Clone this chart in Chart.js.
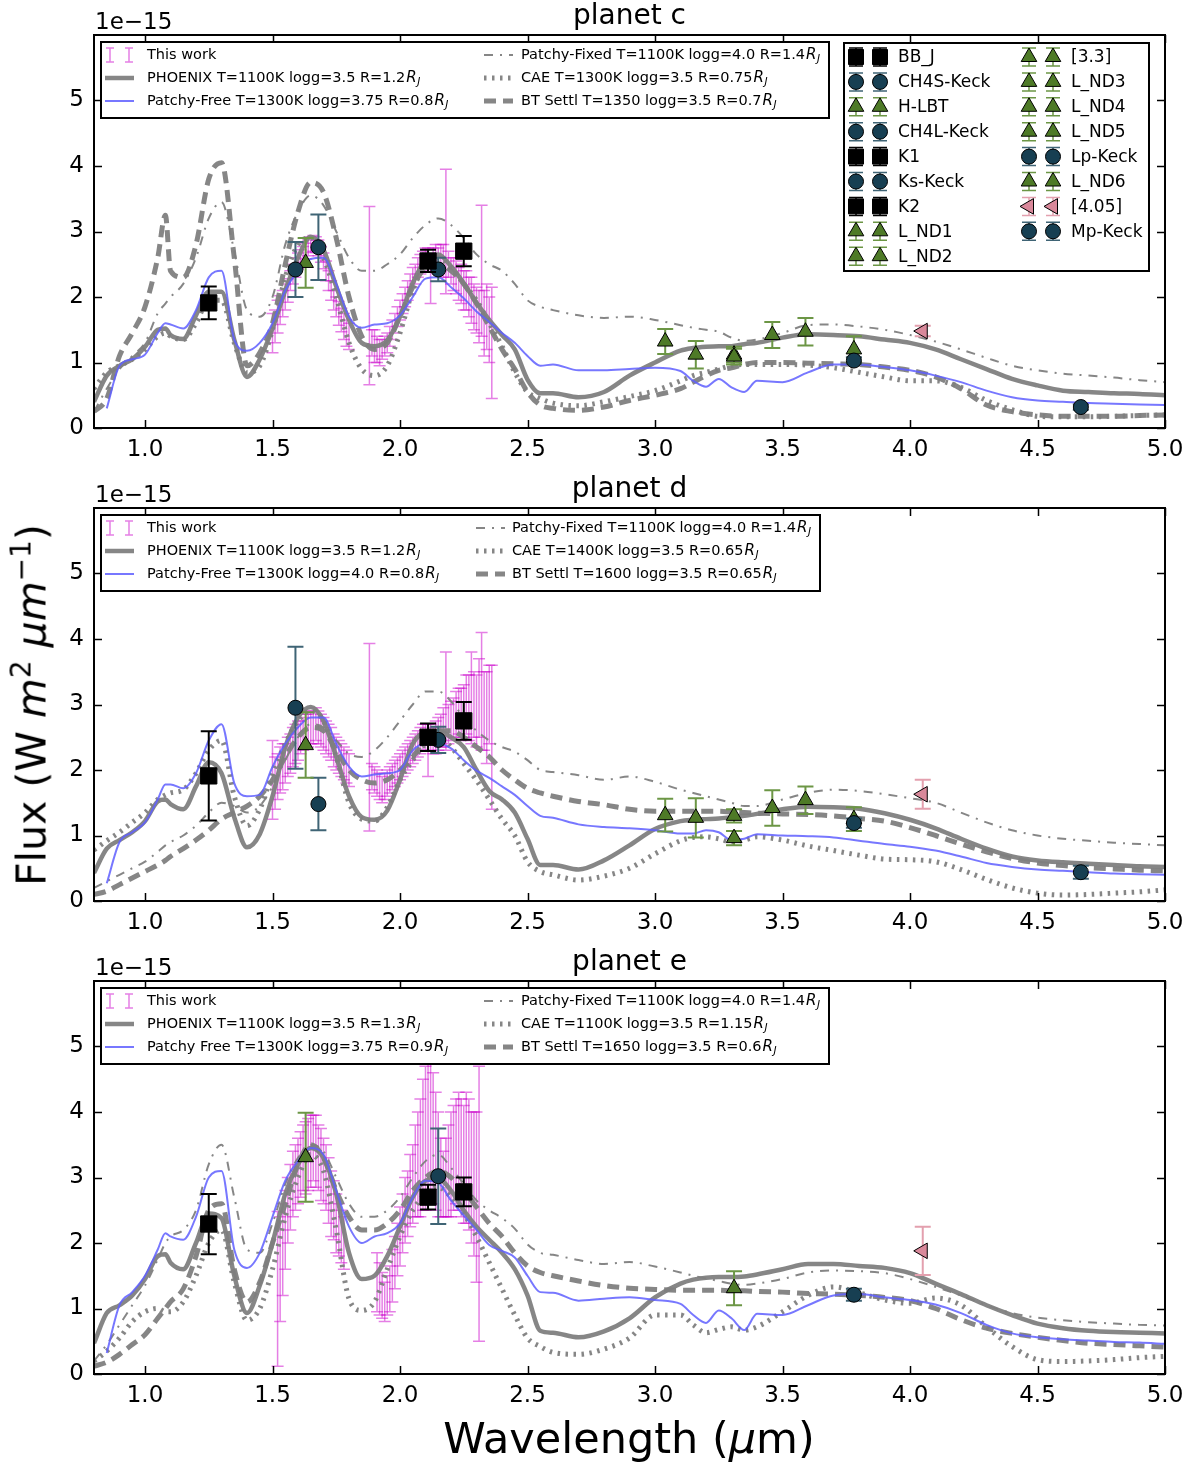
<!DOCTYPE html>
<html lang="en">
<head>
<meta charset="UTF-8">
<title>Spectra of planets c, d and e</title>
<script src="https://cdn.jsdelivr.net/npm/chart.js"></script>
<style>
    body {
        margin: 0;
        background: #fff;
    }

    #page {
        position: relative;
        width: 1195px;
        height: 1462px;
        font-family: "DejaVu Sans", sans-serif;
        color: #000;
    }

    #page canvas {
        position: absolute;
        left: 0;
    }

    /* axis titles shared by the three panels */
    .axis-title {
        position: absolute;
        white-space: nowrap;
        transform: translate(-50%, -50%);
        line-height: 1;
    }

    .axis-title sup {
        font-size: 0.68em;
        vertical-align: 0.55em;
        line-height: 0;
    }

    #ylab {
        left: 32px;
        top: 705px;
        font-size: 41px;
        transform: translate(-50%, -50%) rotate(-90deg);
    }

    #xlab {
        left: 629px;
        top: 1438px;
        font-size: 43px;
    }
</style>
</head>
<body>
<div id="page">
    <canvas id="chartC" width="1195" height="473" style="top:0;width:1195px;height:473px"></canvas>
    <canvas id="chartD" width="1195" height="473" style="top:473px;width:1195px;height:473px"></canvas>
    <canvas id="chartE" width="1195" height="473" style="top:946px;width:1195px;height:473px"></canvas>
    <div class="axis-title" id="ylab">Flux (W <i>m</i><sup>2</sup> <i>µm</i><sup>−1</sup>)</div>
    <div class="axis-title" id="xlab">Wavelength (<i>µ</i>m)</div>
</div>

<script>
// ---------- data (flux in units of 1e-15 W m^-2 um^-1) ----------

const xTicks = [1.0, 1.5, 2.0, 2.5, 3.0, 3.5, 4.0, 4.5, 5.0];
const yTicks = [0, 1, 2, 3, 4, 5];

// wavelength grid shared by the model curves
const modelWl = [0.80,0.85,0.90,0.95,1.00,1.05,1.08,
    1.10,1.15,1.20,1.25,1.30,1.35,1.40,1.45,
    1.50,1.55,1.60,1.65,1.70,1.75,1.80,1.85,
    1.90,1.95,2.00,2.05,2.10,2.15,2.20,2.25,
    2.30,2.35,2.40,2.45,2.50,2.55,2.60,
    2.70,2.80,2.90,3.00,3.10,3.15,3.20,3.25,3.30,3.35,3.40,
    3.50,3.60,3.70,3.80,3.90,4.00,4.10,4.20,
    4.30,4.40,4.50,4.60,4.70,4.80,4.90,5.00];

// planet c models
const phoenixC = [0.40,0.80,0.95,1.05,1.24,1.50,1.52,
    1.42,1.36,1.72,2.08,2.08,1.35,0.78,1.05,
    1.52,2.10,2.60,2.92,2.72,2.16,1.65,1.30,
    1.25,1.34,1.70,2.21,2.57,2.65,2.47,2.21,
    1.91,1.65,1.42,1.20,0.74,0.53,0.53,
    0.47,0.55,0.80,1.00,1.18,1.22,1.24,1.25,1.25,1.28,1.30,
    1.38,1.43,1.42,1.40,1.35,1.30,1.20,1.05,
    0.90,0.75,0.65,0.57,0.55,0.53,0.52,0.50];
const patchyFreeC = [null,0.30,0.95,1.05,1.12,1.45,1.60,
    1.58,1.52,1.80,2.30,2.40,1.35,1.18,1.30,
    1.60,2.10,2.40,2.58,2.60,2.20,1.70,1.53,
    1.58,1.60,1.72,2.00,2.28,2.30,2.15,1.98,
    1.78,1.62,1.45,1.30,1.10,0.95,0.97,
    0.88,0.88,0.90,0.92,0.87,0.72,0.63,0.75,0.62,0.55,0.72,
    0.70,0.85,0.97,0.97,0.93,0.88,0.80,0.70,
    0.57,0.47,0.42,0.40,0.38,0.37,0.36,0.35];
const patchyFixedC = [0.25,0.60,0.90,1.10,1.30,1.75,1.90,
    2.00,2.20,2.60,3.20,3.45,2.70,1.80,1.70,
    2.00,2.80,3.30,3.55,3.40,3.00,2.60,2.40,
    2.40,2.50,2.65,2.90,3.10,3.20,3.10,2.90,
    2.65,2.50,2.40,2.20,1.95,1.85,1.80,
    1.72,1.68,1.70,1.65,1.57,1.53,1.50,1.47,1.38,1.33,1.35,
    1.45,1.57,1.58,1.55,1.50,1.42,1.32,1.20,
    1.07,0.95,0.88,0.83,0.80,0.77,0.73,0.70];
const caeC = [0.60,0.85,0.95,1.05,1.20,1.40,1.45,
    1.40,1.35,1.60,1.95,1.95,1.30,0.85,0.95,
    1.50,2.30,2.80,2.90,2.60,2.00,1.30,0.90,
    0.80,0.95,1.45,2.10,2.50,2.60,2.45,2.20,
    1.95,1.60,1.25,0.85,0.55,0.45,0.38,
    0.34,0.40,0.48,0.57,0.72,0.80,0.85,0.90,0.95,0.97,0.97,
    0.97,0.96,0.92,0.85,0.78,0.72,0.72,0.62,
    0.42,0.28,0.18,0.17,0.17,0.18,0.19,0.20];
const btSettlC = [0.25,0.45,1.10,1.45,1.85,2.60,3.25,
    2.40,2.30,2.80,3.80,4.05,2.60,0.95,1.15,
    1.60,2.50,3.30,3.75,3.60,2.90,2.00,1.40,
    1.20,1.30,1.70,2.15,2.45,2.50,2.40,2.20,
    1.90,1.55,1.20,0.90,0.55,0.35,0.30,
    0.27,0.32,0.42,0.50,0.60,0.70,0.80,0.88,0.92,0.97,1.00,
    1.00,0.99,0.98,0.97,0.93,0.88,0.78,0.60,
    0.35,0.25,0.20,0.18,0.18,0.18,0.19,0.20];

// planet d models
const phoenixD = [0.43,0.80,0.93,1.05,1.22,1.52,1.55,
    1.48,1.40,1.75,2.12,1.95,1.28,0.82,1.02,
    1.60,2.35,2.80,2.96,2.75,2.20,1.60,1.28,
    1.24,1.38,1.85,2.40,2.58,2.60,2.50,2.35,
    2.00,1.68,1.55,1.35,0.95,0.55,0.55,
    0.48,0.62,0.85,1.10,1.22,1.24,1.25,1.26,1.28,1.30,1.33,
    1.40,1.44,1.43,1.41,1.34,1.24,1.11,0.95,
    0.80,0.68,0.62,0.59,0.57,0.55,0.53,0.52];
const patchyFreeD = [null,0.27,0.90,1.05,1.20,1.55,1.78,
    1.78,1.72,1.95,2.45,2.70,1.80,1.60,1.62,
    2.05,2.40,2.65,2.80,2.80,2.40,2.05,1.90,
    1.93,1.95,2.00,2.30,2.40,2.40,2.33,2.15,
    1.99,1.88,1.75,1.62,1.45,1.30,1.27,
    1.17,1.13,1.11,1.08,1.03,1.03,1.08,1.05,0.93,0.95,1.02,
    1.00,0.99,0.97,0.92,0.87,0.83,0.77,0.68,
    0.58,0.52,0.48,0.46,0.44,0.42,0.41,0.40];
const patchyFixedD = [0.20,0.30,0.40,0.50,0.60,0.75,0.85,
    0.90,1.00,1.15,1.35,1.50,1.45,1.35,1.45,
    1.75,2.15,2.50,2.70,2.65,2.45,2.25,2.20,
    2.30,2.50,2.75,3.00,3.20,3.20,3.05,2.80,
    2.60,2.45,2.35,2.28,2.15,2.00,1.97,
    1.92,1.85,1.90,1.82,1.70,1.65,1.60,1.55,1.50,1.45,1.45,
    1.55,1.65,1.70,1.68,1.63,1.57,1.50,1.35,
    1.20,1.08,1.00,0.95,0.92,0.89,0.87,0.85];
const caeD = [0.78,0.92,1.05,1.20,1.35,1.55,1.62,
    1.65,1.70,1.95,2.30,2.45,1.60,1.15,1.40,
    1.95,2.40,2.75,2.90,2.75,2.20,1.50,1.25,
    1.22,1.43,1.85,2.15,2.40,2.50,2.35,2.10,
    1.84,1.55,1.25,1.00,0.60,0.45,0.40,
    0.32,0.38,0.50,0.72,0.92,0.97,0.98,0.95,0.90,0.93,0.98,
    0.93,0.84,0.77,0.70,0.64,0.63,0.60,0.48,
    0.33,0.20,0.12,0.09,0.10,0.12,0.14,0.17];
const btSettlD = [0.10,0.15,0.25,0.35,0.45,0.55,0.62,
    0.68,0.80,0.93,1.08,1.25,1.35,1.45,1.60,
    1.85,2.20,2.50,2.65,2.60,2.30,2.00,1.85,
    1.80,1.85,2.00,2.20,2.45,2.60,2.60,2.50,
    2.35,2.20,2.00,1.85,1.72,1.65,1.60,
    1.52,1.47,1.40,1.37,1.37,1.37,1.37,1.37,1.36,1.35,1.34,
    1.33,1.32,1.30,1.26,1.22,1.12,1.00,0.87,
    0.75,0.65,0.58,0.54,0.51,0.49,0.47,0.46];

// planet e models
const phoenixE = [0.47,0.93,1.05,1.20,1.45,1.80,1.83,
    1.70,1.60,2.00,2.45,2.38,1.50,0.93,1.35,
    2.00,2.75,3.20,3.45,3.30,2.75,1.85,1.45,
    1.50,1.80,2.25,2.70,2.95,2.98,2.80,2.50,
    2.25,2.05,1.85,1.60,1.20,0.66,0.63,
    0.56,0.65,0.85,1.17,1.38,1.44,1.47,1.48,1.48,1.49,1.52,
    1.60,1.68,1.68,1.65,1.62,1.54,1.38,1.22,
    1.05,0.90,0.77,0.70,0.66,0.64,0.63,0.62];
const patchyFreeE = [null,0.32,1.05,1.25,1.50,1.90,2.15,
    2.10,2.05,2.40,3.00,3.10,1.90,1.62,1.85,
    2.40,2.95,3.25,3.45,3.35,2.80,2.25,2.00,
    2.10,2.15,2.30,2.70,2.95,2.92,2.65,2.42,
    2.20,1.97,1.88,1.78,1.50,1.25,1.24,
    1.12,1.15,1.17,1.13,1.07,0.90,0.78,0.97,0.85,0.67,0.92,
    0.90,1.05,1.20,1.22,1.17,1.13,1.06,0.93,
    0.75,0.62,0.56,0.53,0.51,0.49,0.48,0.46];
const patchyFixedE = [0.20,0.45,0.75,1.05,1.35,1.75,2.00,
    2.10,2.20,2.50,3.20,3.50,2.70,1.90,1.85,
    2.30,2.90,3.30,3.50,3.40,3.00,2.60,2.40,
    2.40,2.50,2.70,3.00,3.25,3.35,3.15,2.90,
    2.65,2.50,2.38,2.22,1.98,1.85,1.82,
    1.74,1.68,1.71,1.64,1.55,1.50,1.46,1.42,1.38,1.36,1.38,
    1.45,1.55,1.58,1.57,1.54,1.45,1.33,1.20,
    1.05,0.93,0.86,0.82,0.79,0.77,0.75,0.74];
const caeE = [0.20,0.35,0.55,0.80,0.95,1.00,0.95,
    0.95,1.10,1.50,2.00,2.20,1.40,0.82,1.00,
    1.60,2.40,3.00,3.35,3.10,2.20,1.15,0.97,
    1.10,1.60,2.10,2.50,2.75,2.85,2.70,2.45,
    2.10,1.70,1.30,0.90,0.55,0.42,0.33,
    0.30,0.38,0.55,0.90,0.90,0.75,0.63,0.68,0.72,0.67,0.72,
    0.95,1.20,1.33,1.24,1.13,1.08,1.16,1.05,
    0.72,0.42,0.22,0.19,0.20,0.22,0.25,0.27];
const btSettlE = [0.12,0.18,0.30,0.45,0.60,0.85,1.00,
    1.10,1.30,1.80,2.50,2.60,1.60,1.10,1.40,
    2.00,2.60,3.20,3.50,3.30,2.80,2.40,2.20,
    2.20,2.30,2.50,2.80,3.00,3.10,3.00,2.80,
    2.55,2.30,2.10,1.85,1.65,1.55,1.50,
    1.42,1.35,1.31,1.29,1.28,1.28,1.28,1.28,1.27,1.27,1.26,
    1.25,1.23,1.22,1.20,1.17,1.12,1.00,0.83,
    0.70,0.62,0.56,0.51,0.47,0.45,0.43,0.41];

// "This work" spectra (H and K bands)
const workWlC = [1.50,1.51,1.52,1.53,1.54,1.55,1.56,1.57,1.58,1.59,1.60,1.61,1.62,1.63,1.64,1.65,
    1.66,1.67,1.68,1.69,1.70,1.71,1.72,1.73,1.74,1.75,1.76,1.77,1.78,1.79,1.80,
    1.88,1.89,1.90,1.91,1.92,1.93,1.94,1.95,1.96,1.97,1.98,1.99,2.00,2.01,2.02,2.03,2.04,
    2.05,2.06,2.07,2.08,2.09,2.10,2.11,2.12,2.13,2.14,2.15,2.16,2.17,2.18,2.19,2.20,2.21,
    2.22,2.23,2.24,2.25,2.26,2.27,2.28,2.29,2.30,2.31,2.32,2.33,2.34,2.35,2.36];
const workFluxC = [1.45,1.55,1.70,1.80,1.90,2.00,2.10,2.25,2.35,2.45,2.55,2.60,2.65,2.70,2.75,2.80,
    2.82,2.80,2.75,2.65,2.55,2.40,2.25,2.10,1.95,1.85,1.75,1.65,1.55,1.45,1.40,
    2.02,1.30,1.25,1.20,1.15,1.20,1.25,1.30,1.40,1.50,1.60,1.70,1.80,1.90,2.00,2.10,2.20,
    2.30,2.35,2.45,2.50,2.55,2.60,2.60,2.25,2.60,2.60,2.55,2.60,2.55,3.00,2.50,2.40,2.35,
    2.30,2.20,2.20,2.10,2.10,2.00,1.95,1.85,1.80,1.70,2.40,1.60,1.70,1.50,1.30];
const workErrC = [0.30,0.25,0.25,0.22,0.20,0.20,0.18,0.15,0.15,0.15,0.12,0.12,0.12,0.12,0.12,0.12,
    0.12,0.12,0.12,0.12,0.12,0.15,0.15,0.15,0.15,0.15,0.18,0.18,0.20,0.20,0.20,
    1.36,0.20,0.25,0.20,0.20,0.15,0.15,0.15,0.15,0.15,0.15,0.15,0.15,0.15,0.15,0.15,0.15,
    0.15,0.15,0.15,0.15,0.15,0.15,0.15,0.35,0.15,0.20,0.20,0.20,0.25,0.95,0.20,0.20,0.25,
    0.25,0.25,0.30,0.30,0.30,0.30,0.35,0.35,0.35,0.40,1.00,0.50,0.50,0.50,0.85];

const workWlD = workWlC;
const workFluxD = [1.85,1.80,1.90,2.00,2.05,2.10,2.20,2.25,2.35,2.40,2.45,2.50,2.55,2.60,2.60,2.65,
    2.65,2.70,2.65,2.60,2.55,2.50,2.45,2.40,2.30,2.25,2.20,2.15,2.10,2.05,2.00,
    2.50,1.90,1.85,1.80,1.75,1.70,1.75,1.80,1.85,1.90,1.95,2.00,2.05,2.10,2.15,2.20,2.25,
    2.30,2.35,2.40,2.45,2.50,2.50,2.30,2.50,2.45,2.50,2.55,2.60,2.65,3.05,2.70,2.75,2.80,
    2.85,2.90,2.85,2.90,3.00,2.95,3.10,3.00,2.90,3.10,3.20,2.90,2.80,3.00,2.50];
const workErrD = [0.60,0.40,0.35,0.35,0.35,0.30,0.30,0.30,0.30,0.30,0.30,0.25,0.25,0.25,0.25,0.25,
    0.25,0.25,0.25,0.25,0.25,0.25,0.25,0.25,0.25,0.25,0.25,0.25,0.25,0.25,0.25,
    1.43,0.20,0.20,0.20,0.20,0.20,0.20,0.20,0.20,0.20,0.20,0.20,0.20,0.20,0.20,0.20,0.20,
    0.20,0.20,0.20,0.20,0.20,0.20,0.40,0.20,0.20,0.25,0.25,0.25,0.30,0.75,0.30,0.30,0.30,
    0.35,0.35,0.40,0.40,0.45,0.50,0.70,0.50,0.55,0.60,0.90,0.60,0.70,0.60,1.10];

const workWlE = [1.52,1.53,1.54,1.55,1.56,1.57,1.58,1.59,1.60,1.61,1.62,1.63,1.64,1.65,
    1.66,1.67,1.68,1.69,1.70,1.71,1.72,1.73,1.74,1.75,1.76,1.77,1.78,
    1.91,1.92,1.93,1.94,1.95,1.96,1.97,1.98,1.99,2.00,2.01,2.02,2.03,2.04,2.05,2.06,
    2.07,2.08,2.09,2.10,2.11,2.12,2.13,2.14,2.15,2.16,2.17,2.18,2.19,2.20,2.21,2.22,
    2.23,2.24,2.25,2.26,2.27,2.28,2.29,2.30,2.31];
const workFluxE = [1.30,1.60,1.90,2.20,2.50,2.70,2.90,3.00,3.10,3.20,3.30,3.30,3.35,3.40,
    3.45,3.40,3.30,3.20,3.10,3.00,2.80,2.60,2.50,2.30,2.20,2.10,2.00,
    1.40,1.30,1.20,1.10,1.20,1.30,1.50,1.70,1.90,2.10,2.30,2.50,2.60,2.80,2.90,3.10,
    3.20,3.30,3.50,3.60,3.70,3.80,3.60,3.40,3.20,3.00,2.90,3.00,3.10,3.20,3.30,3.40,
    3.40,3.30,3.20,3.30,3.20,3.00,2.90,2.70,2.60];
const workErrE = [1.18,0.80,0.70,0.60,0.50,0.50,0.50,0.50,0.50,0.50,0.50,0.55,0.55,0.55,
    0.50,0.55,0.50,0.55,0.50,0.50,0.50,0.50,0.45,0.45,0.40,0.40,0.40,
    0.45,0.40,0.35,0.30,0.30,0.35,0.40,0.40,0.40,0.45,0.45,0.50,0.50,0.55,0.60,0.70,
    0.80,0.90,1.00,1.10,1.10,1.20,1.00,0.90,0.80,0.60,0.50,0.60,0.70,0.80,0.80,0.80,
    0.90,0.90,0.90,1.00,1.00,1.00,1.10,1.30,2.10];

// photometry from earlier work
const photNames = ['BB_J', 'CH4S-Keck', 'H-LBT', 'CH4L-Keck', 'K1', 'Ks-Keck', 'K2', 'L_ND1', 'L_ND2',
    '[3.3]', 'L_ND3', 'L_ND4', 'L_ND5', 'Lp-Keck', 'L_ND6', '[4.05]', 'Mp-Keck'];
const photWl = [1.25, 1.59, 1.63, 1.68, 2.11, 2.15, 2.25, 3.04, 3.16, 3.31, 3.31, 3.46, 3.59, 3.78, 3.78, 4.05, 4.67];
const photKind = ['square', 'circle', 'triangle', 'circle', 'square', 'circle', 'square', 'triangle', 'triangle',
    'triangle', 'triangle', 'triangle', 'triangle', 'circle', 'triangle', 'left', 'circle'];
const photC = [1.91, 2.42, 2.52, 2.76, 2.55, 2.42, 2.70, 1.32, 1.12, 1.09, 1.12, 1.42, 1.47, 1.03, 1.20, 1.48, 0.32];
const photErrC = [0.25, 0.42, 0.38, 0.50, 0.17, 0.18, 0.23, 0.19, 0.21, 0.12, 0.12, 0.20, 0.21, 0.05, 0.20, 0.08, 0.04];
const photD = [1.91, 2.95, 2.38, 1.48, 2.50, 2.46, 2.75, 1.31, 1.27, 0.96, 1.30, 1.42, 1.54, 1.19, 1.25, 1.63, 0.44];
const photErrD = [0.68, 0.93, 0.50, 0.40, 0.21, 0.20, 0.29, 0.25, 0.30, 0.11, 0.10, 0.27, 0.21, 0.07, 0.18, 0.22, 0.10];
const photE = [2.29, null, 3.31, null, 2.70, 3.02, 2.78, null, null, 1.31, null, null, null, 1.21, null, 1.88, null];
const photErrE = [0.46, null, 0.68, null, 0.19, 0.73, 0.22, null, null, 0.26, null, null, null, 0.09, null, 0.37, null];

// model labels (R_J suffix is drawn by the legend)
const modelLabelsC = ['PHOENIX T=1100K logg=3.5 R=1.2', 'Patchy-Free T=1300K logg=3.75 R=0.8',
    'Patchy-Fixed T=1100K logg=4.0 R=1.4', 'CAE T=1300K logg=3.5 R=0.75', 'BT Settl T=1350 logg=3.5 R=0.7'];
const modelLabelsD = ['PHOENIX T=1100K logg=3.5 R=1.2', 'Patchy-Free T=1300K logg=4.0 R=0.8',
    'Patchy-Fixed T=1100K logg=4.0 R=1.4', 'CAE T=1400K logg=3.5 R=0.65', 'BT Settl T=1600 logg=3.5 R=0.65'];
const modelLabelsE = ['PHOENIX T=1100K logg=3.5 R=1.3', 'Patchy Free T=1300K logg=3.75 R=0.9',
    'Patchy-Fixed T=1100K logg=4.0 R=1.4', 'CAE T=1100K logg=3.5 R=1.15', 'BT Settl T=1650 logg=3.5 R=0.6'];

// ---------- styles ----------

Chart.defaults.font.family = '"DejaVu Sans", sans-serif';
Chart.defaults.color = '#000';

const FONT = '"DejaVu Sans", sans-serif';
const GREY = 'rgba(128,128,128,0.95)';
const MAGENTA = 'rgba(204,0,204,0.5)';

const modelStyles = [
    { borderColor: GREY, borderWidth: 4.5, borderDash: [], order: 5 },               // PHOENIX
    { borderColor: 'rgba(95,95,255,0.85)', borderWidth: 2, borderDash: [], order: 1 }, // Patchy-Free
    { borderColor: GREY, borderWidth: 2, borderDash: [9, 7, 2, 7], order: 2 },        // Patchy-Fixed
    { borderColor: GREY, borderWidth: 5, borderDash: [2.5, 5.5], order: 3 },          // CAE
    { borderColor: GREY, borderWidth: 5, borderDash: [12, 7], order: 4 }              // BT Settl
];

const kindStyle = {
    square:   { pointStyle: 'rect', radius: 11.5, rotation: 0, fill: '#000000', err: '#000000' },
    circle:   { pointStyle: 'circle', radius: 7.5, rotation: 0, fill: '#173f52', err: '#3f6475' },
    triangle: { pointStyle: 'triangle', radius: 9, rotation: 0, fill: '#4e7a27', err: '#6c9645' },
    left:     { pointStyle: 'triangle', radius: 9, rotation: -90, fill: '#d9889a', err: '#e3a0ae' }
};

// ---------- dataset builders ----------

function modelDatasets(curves, labels) {
    return curves.map((arr, k) => ({
        role: 'model',
        label: labels[k],
        data: modelWl.map((x, i) => ({ x: x, y: arr[i] })).filter(p => p.y !== null),
        showLine: true,
        fill: false,
        pointRadius: 0,
        cubicInterpolationMode: 'monotone',
        borderColor: modelStyles[k].borderColor,
        borderWidth: modelStyles[k].borderWidth,
        borderDash: modelStyles[k].borderDash,
        order: modelStyles[k].order
    }));
}

function workDataset(wl, flux, err) {
    return {
        role: 'work',
        label: 'This work',
        data: wl.map((x, i) => ({ x: x, y: flux[i] })),
        yErr: err,
        errColor: MAGENTA,
        errWidth: 1.5,
        capHalf: 6,
        pointRadius: 0,
        showLine: false,
        order: 6
    };
}

function photDatasets(vals, errs) {
    const out = [];
    photNames.forEach((name, i) => {
        if (vals[i] === null) return;
        const st = kindStyle[photKind[i]];
        out.push({
            role: 'phot',
            kind: photKind[i],
            label: name,
            data: [{ x: photWl[i], y: vals[i] }],
            yErr: [errs[i]],
            errColor: st.err,
            errWidth: 2,
            capHalf: 8,
            showLine: false,
            pointStyle: st.pointStyle,
            pointRadius: st.radius,
            pointRotation: st.rotation,
            backgroundColor: st.fill,
            borderColor: '#000',
            pointBorderWidth: 1,
            order: 0
        });
    });
    return out;
}

// ---------- plugins ----------

// vertical error bars, drawn just before the markers of the same dataset
const errorBars = {
    id: 'errorBars',
    beforeDatasetDraw(chart, args) {
        const ds = chart.data.datasets[args.index];
        if (!ds.yErr) return;
        const { ctx, chartArea: a } = chart;
        const xs = chart.scales.x, ys = chart.scales.y;
        ctx.save();
        ctx.beginPath();
        ctx.rect(a.left, a.top, a.right - a.left, a.bottom - a.top);
        ctx.clip();
        ctx.strokeStyle = ds.errColor;
        ctx.lineWidth = ds.errWidth;
        ds.data.forEach((p, i) => {
            const px = xs.getPixelForValue(p.x);
            const top = ys.getPixelForValue(p.y + ds.yErr[i]);
            const bot = ys.getPixelForValue(p.y - ds.yErr[i]);
            ctx.beginPath();
            ctx.moveTo(px, top); ctx.lineTo(px, bot);
            ctx.moveTo(px - ds.capHalf, top); ctx.lineTo(px + ds.capHalf, top);
            ctx.moveTo(px - ds.capHalf, bot); ctx.lineTo(px + ds.capHalf, bot);
            ctx.stroke();
        });
        ctx.restore();
    }
};

function drawMarker(ctx, kind, color, x, y) {
    ctx.save();
    ctx.fillStyle = color;
    ctx.strokeStyle = '#000';
    ctx.lineWidth = 1;
    ctx.beginPath();
    if (kind === 'square') {
        ctx.rect(x - 7.5, y - 7.5, 15, 15);
    } else if (kind === 'circle') {
        ctx.arc(x, y, 7.5, 0, Math.PI * 2);
    } else if (kind === 'triangle') {
        ctx.moveTo(x, y - 9); ctx.lineTo(x + 7.8, y + 4.5); ctx.lineTo(x - 7.8, y + 4.5); ctx.closePath();
    } else {
        ctx.moveTo(x - 9, y); ctx.lineTo(x + 4.5, y - 7.8); ctx.lineTo(x + 4.5, y + 7.8); ctx.closePath();
    }
    ctx.fill();
    ctx.stroke();
    ctx.restore();
}

function drawRJ(ctx, x, y) {
    ctx.font = 'italic 15px ' + FONT;
    ctx.fillText('R', x, y);
    const w = ctx.measureText('R').width;
    ctx.font = 'italic 10.5px ' + FONT;
    ctx.fillText('J', x + w + 0.5, y + 4);
}

function drawModelLegend(ctx, chart, lg) {
    const [bx, by, bw, bh] = lg.box;
    ctx.save();
    ctx.fillStyle = '#fff';
    ctx.fillRect(bx, by, bw, bh);
    ctx.strokeStyle = '#000';
    ctx.lineWidth = 2;
    ctx.strokeRect(bx, by, bw, bh);

    const ds = chart.data.datasets;
    const entries = [ds.find(d => d.role === 'work')].concat(ds.filter(d => d.role === 'model'));
    entries.forEach((d, i) => {
        const col = i < 3 ? lg.col1 : lg.col2;
        const ry = lg.rows[i % 3];
        const hx = col.handle;
        if (d.role === 'work') {
            ctx.strokeStyle = d.errColor;
            ctx.lineWidth = 1.5;
            [hx + 5, hx + 24].forEach(cx => {
                ctx.beginPath();
                ctx.moveTo(cx, ry - 7); ctx.lineTo(cx, ry + 7);
                ctx.moveTo(cx - 4, ry - 7); ctx.lineTo(cx + 4, ry - 7);
                ctx.moveTo(cx - 4, ry + 7); ctx.lineTo(cx + 4, ry + 7);
                ctx.stroke();
            });
        } else {
            ctx.strokeStyle = d.borderColor;
            ctx.lineWidth = d.borderWidth;
            ctx.setLineDash(d.borderDash);
            ctx.beginPath();
            ctx.moveTo(hx, ry);
            ctx.lineTo(hx + 29, ry);
            ctx.stroke();
            ctx.setLineDash([]);
        }
        ctx.fillStyle = '#000';
        ctx.textAlign = 'left';
        ctx.textBaseline = 'middle';
        ctx.font = '14.5px ' + FONT;
        ctx.fillText(d.label, col.text, ry);
        if (d.role === 'model') {
            const w = ctx.measureText(d.label).width;
            drawRJ(ctx, col.text + w + 1, ry);
        }
    });
    ctx.restore();
}

function drawMarkerLegend(ctx, chart, ml) {
    const [bx, by, bw, bh] = ml.box;
    ctx.save();
    ctx.fillStyle = '#fff';
    ctx.fillRect(bx, by, bw, bh);
    ctx.strokeStyle = '#000';
    ctx.lineWidth = 2;
    ctx.strokeRect(bx, by, bw, bh);

    const phot = chart.data.datasets.filter(d => d.role === 'phot');
    phot.forEach((d, i) => {
        const c = i < ml.perCol ? 0 : 1;
        const row = c ? i - ml.perCol : i;
        const ry = ml.y0 + row * ml.dy;
        const col = ml.cols[c];
        col.markers.forEach(mx => {
            ctx.strokeStyle = d.errColor;
            ctx.lineWidth = 1.5;
            ctx.beginPath();
            ctx.moveTo(mx, ry - 9); ctx.lineTo(mx, ry + 9);
            ctx.moveTo(mx - 7, ry - 9); ctx.lineTo(mx + 7, ry - 9);
            ctx.moveTo(mx - 7, ry + 9); ctx.lineTo(mx + 7, ry + 9);
            ctx.stroke();
            drawMarker(ctx, d.kind, d.backgroundColor, mx, ry);
        });
        ctx.fillStyle = '#000';
        ctx.font = '17px ' + FONT;
        ctx.textAlign = 'left';
        ctx.textBaseline = 'middle';
        ctx.fillText(d.label, col.text, ry + 1);
    });
    ctx.restore();
}

// frame with inward ticks on all four sides, title, offset text and legends
const framePlugin = {
    id: 'frame',
    afterDraw(chart, args, opts) {
        const { ctx, chartArea: a } = chart;
        const xs = chart.scales.x, ys = chart.scales.y;
        ctx.save();
        ctx.strokeStyle = '#000';
        ctx.lineWidth = 1.5;
        ctx.beginPath();
        xTicks.forEach(v => {
            const px = Math.round(xs.getPixelForValue(v)) + 0.5;
            ctx.moveTo(px, a.bottom); ctx.lineTo(px, a.bottom - 8);
            ctx.moveTo(px, a.top); ctx.lineTo(px, a.top + 8);
        });
        yTicks.forEach(v => {
            const py = Math.round(ys.getPixelForValue(v)) + 0.5;
            ctx.moveTo(a.left, py); ctx.lineTo(a.left + 8, py);
            ctx.moveTo(a.right, py); ctx.lineTo(a.right - 8, py);
        });
        ctx.stroke();
        ctx.lineWidth = 2;
        ctx.strokeRect(a.left, a.top, a.right - a.left, a.bottom - a.top);

        ctx.fillStyle = '#000';
        ctx.textBaseline = 'alphabetic';
        ctx.textAlign = 'center';
        ctx.font = '28px ' + FONT;
        ctx.fillText(opts.title, (a.left + a.right) / 2, 24);
        ctx.textAlign = 'left';
        ctx.font = '23px ' + FONT;
        ctx.fillText('1e\u221215', a.left + 1, 29);
        ctx.restore();

        drawModelLegend(ctx, chart, opts.legend);
        if (opts.markerLegend) drawMarkerLegend(ctx, chart, opts.markerLegend);
    }
};

// ---------- charts ----------

function makeChart(canvasId, panel) {
    const datasets = photDatasets(panel.phot, panel.photErr)
        .concat(modelDatasets(panel.models, panel.labels))
        .concat([workDataset(panel.workWl, panel.workFlux, panel.workErr)]);

    return new Chart(document.getElementById(canvasId), {
        type: 'scatter',
        data: { datasets: datasets },
        options: {
            responsive: false,
            maintainAspectRatio: false,
            animation: false,
            events: [],
            layout: { padding: { top: 35, right: 30, left: 0, bottom: 0 } },
            plugins: {
                legend: { display: false },
                tooltip: { enabled: false },
                frame: { title: panel.title, legend: panel.legend, markerLegend: panel.markerLegend }
            },
            scales: {
                x: {
                    type: 'linear',
                    min: 0.8,
                    max: 5.0,
                    grid: { display: false, drawTicks: false },
                    border: { display: false },
                    afterBuildTicks: s => { s.ticks = xTicks.map(v => ({ value: v })); },
                    afterFit: s => { s.height = 45; },
                    ticks: {
                        padding: 8,
                        autoSkip: false,
                        maxRotation: 0,
                        font: { size: 23 },
                        color: '#000',
                        callback: v => Number(v).toFixed(1)
                    }
                },
                y: {
                    type: 'linear',
                    min: 0,
                    max: 6,
                    grid: { display: false, drawTicks: false },
                    border: { display: false },
                    afterBuildTicks: s => { s.ticks = yTicks.map(v => ({ value: v })); },
                    afterFit: s => { s.width = 94; },
                    ticks: {
                        padding: 10,
                        font: { size: 23 },
                        color: '#000',
                        callback: v => String(v)
                    }
                }
            }
        },
        plugins: [errorBars, framePlugin]
    });
}

const legendRows = [55, 78, 101];

makeChart('chartC', {
    title: 'planet c',
    models: [phoenixC, patchyFreeC, patchyFixedC, caeC, btSettlC],
    labels: modelLabelsC,
    workWl: workWlC, workFlux: workFluxC, workErr: workErrC,
    phot: photC, photErr: photErrC,
    legend: { box: [101, 42, 728, 76], rows: legendRows,
              col1: { handle: 105, text: 147 }, col2: { handle: 484, text: 521 } },
    markerLegend: { box: [844, 43, 305, 228], perCol: 9, y0: 57, dy: 24.9,
                    cols: [{ markers: [856, 880], text: 898 }, { markers: [1029, 1053], text: 1071 }] }
});

makeChart('chartD', {
    title: 'planet d',
    models: [phoenixD, patchyFreeD, patchyFixedD, caeD, btSettlD],
    labels: modelLabelsD,
    workWl: workWlD, workFlux: workFluxD, workErr: workErrD,
    phot: photD, photErr: photErrD,
    legend: { box: [101, 42, 719, 76], rows: legendRows,
              col1: { handle: 105, text: 147 }, col2: { handle: 476, text: 512 } }
});

makeChart('chartE', {
    title: 'planet e',
    models: [phoenixE, patchyFreeE, patchyFixedE, caeE, btSettlE],
    labels: modelLabelsE,
    workWl: workWlE, workFlux: workFluxE, workErr: workErrE,
    phot: photE, photErr: photErrE,
    legend: { box: [101, 42, 728, 76], rows: legendRows,
              col1: { handle: 105, text: 147 }, col2: { handle: 484, text: 521 } }
});
</script>
</body>
</html>
